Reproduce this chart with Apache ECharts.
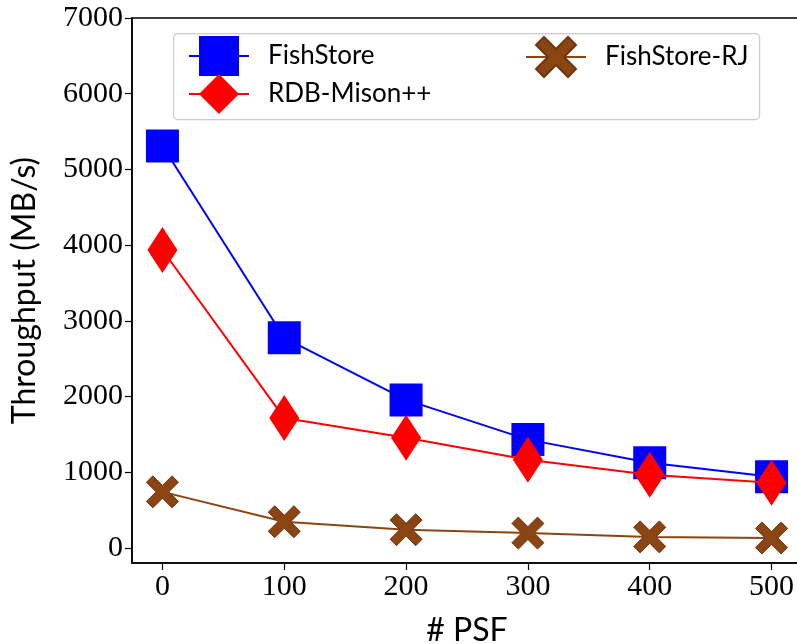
<!DOCTYPE html>
<html>
<head>
<meta charset="utf-8">
<script src="https://cdn.jsdelivr.net/npm/echarts@6/dist/echarts.min.js"></script>
<style>html,body{margin:0;padding:0;background:#fff}#c{width:797px;height:644px}</style>
</head>
<body>
<div id="c"></div>
<script>
const psf = [0, 100, 200, 300, 400, 500];
const fishStore = [5310, 2775, 1955, 1430, 1125, 940];
const rdbMison = [3935, 1715, 1455, 1165, 965, 860];
const fishStoreRJ = [740, 345, 240, 195, 145, 130];
const yTicks = [0, 1000, 2000, 3000, 4000, 5000, 6000, 7000];
const xTicks = [0, 100, 200, 300, 400, 500];

const xPath = 'path://M2,0 L5,3 L8,0 L10,2 L7,5 L10,8 L8,10 L5,7 L2,10 L0,8 L3,5 L0,2 Z';
const pairs = v => psf.map((x, i) => [x, v[i]]);

const chart = echarts.init(document.getElementById('c'));
const serifLabel = {fontFamily: 'Liberation Serif', fontSize: 30, color: '#000', formatter: v => String(v)};
const legendBase = (name, left, top) => ({
  left: left, top: top, orient: 'vertical', z: 10, padding: 0,
  itemWidth: 60, itemHeight: 50,
  textStyle: {fontFamily: 'Lato', fontSize: 26, color: '#000', padding: [0, 0, 0, 14]},
  data: [name]
});
chart.setOption({
  backgroundColor: '#fff',
  animation: false,
  grid: {left: 132, top: 18, width: 670, height: 545, outerBoundsMode: 'none', containLabel: false,
         show: true, borderColor: '#000', borderWidth: 1.5, backgroundColor: 'transparent'},
  xAxis: {
    type: 'value', min: -25, max: 525,
    name: '# PSF', nameLocation: 'middle', nameGap: 52,
    nameTextStyle: {fontFamily: 'Lato', fontSize: 32, color: '#000'},
    axisLine: {show: true, onZero: false, lineStyle: {color: '#000', width: 1.5}},
    axisTick: {show: true, length: 7, lineStyle: {color: '#000', width: 1.2}, customValues: xTicks},
    axisLabel: Object.assign({margin: 9, customValues: xTicks}, serifLabel),
    splitLine: {show: false}
  },
  yAxis: {
    type: 'value', min: -200, max: 7000,
    name: 'Throughput (MB/s)', nameLocation: 'middle', nameGap: 91, nameRotate: 90,
    nameTextStyle: {fontFamily: 'Lato', fontSize: 32, color: '#000'},
    axisLine: {show: true, onZero: false, lineStyle: {color: '#000', width: 1.5}},
    axisTick: {show: true, length: 7, lineStyle: {color: '#000', width: 1.2}, customValues: yTicks},
    axisLabel: Object.assign({margin: 9, customValues: yTicks}, serifLabel),
    splitLine: {show: false}
  },
  graphic: [{
    type: 'rect', left: 173, top: 33, z: 5,
    shape: {width: 586, height: 86, r: 4},
    style: {fill: 'rgba(255,255,255,0.85)', stroke: '#cccccc', lineWidth: 1.2}
  }],
  legend: [
    legendBase('FishStore', 188, 36),
    legendBase('RDB-Mison++', 188, 74),
    legendBase('FishStore-RJ', 525, 36)
  ],
  series: [{
    name: 'FishStore', type: 'line', data: pairs(fishStore),
    symbol: 'rect', symbolSize: 33,
    lineStyle: {color: '#0000ff', width: 2},
    itemStyle: {color: '#0000ff'}, z: 3
  }, {
    name: 'RDB-Mison++', type: 'line', data: pairs(rdbMison),
    symbol: 'diamond', symbolSize: [30, 46],
    lineStyle: {color: '#ff0000', width: 2},
    itemStyle: {color: '#ff0000'}, z: 4
  }, {
    name: 'FishStore-RJ', type: 'line', data: pairs(fishStoreRJ),
    symbol: xPath, symbolSize: 32,
    lineStyle: {color: '#8b4513', width: 2},
    itemStyle: {color: '#8b4513', borderColor: '#6e3510', borderWidth: 1}, z: 2
  }]
});
</script>
</body>
</html>
